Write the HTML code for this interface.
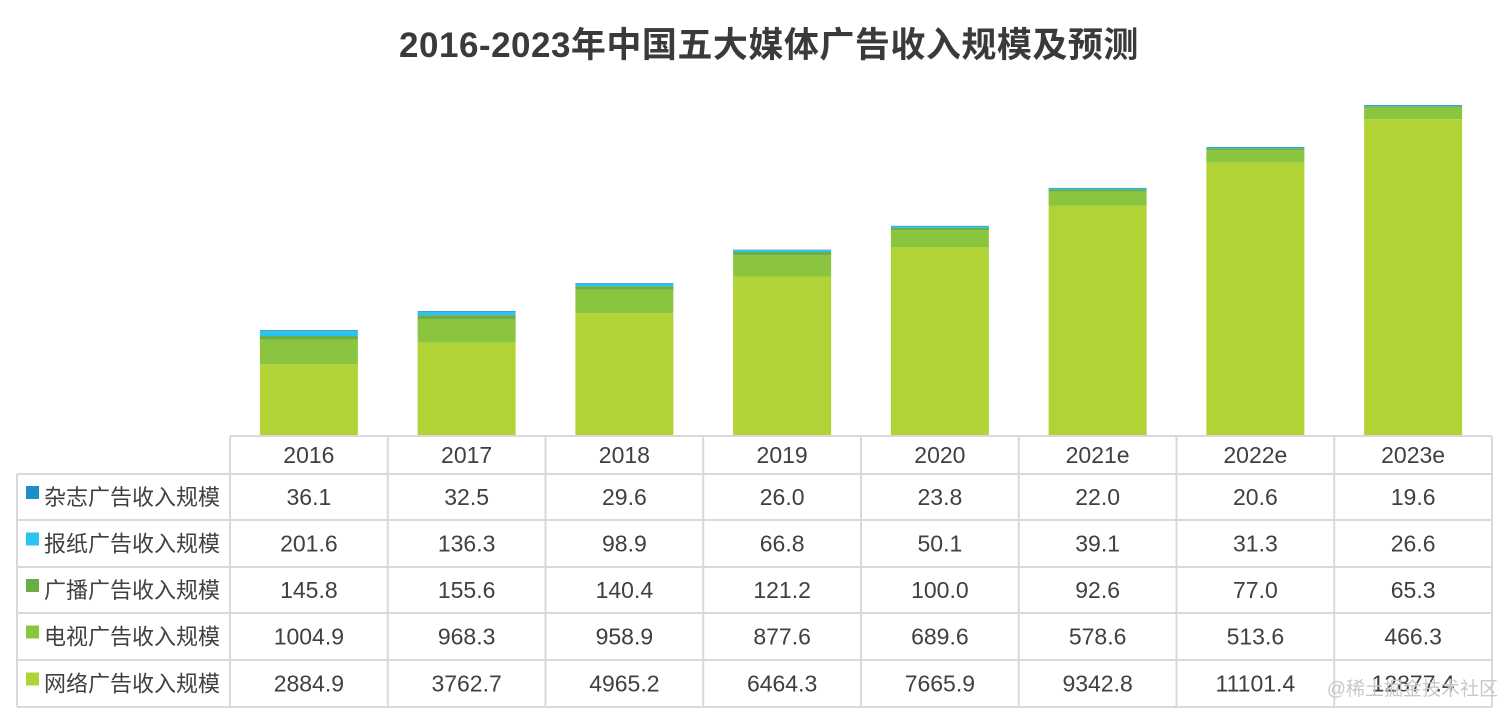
<!DOCTYPE html>
<html><head><meta charset="utf-8">
<style>
html,body{margin:0;padding:0;background:#fff;}
body{width:1512px;height:716px;overflow:hidden;position:relative;font-family:"Liberation Sans","Noto Sans CJK SC",sans-serif;}
#title{position:absolute;left:0;width:1538px;top:17px;text-align:center;font-size:35px;font-weight:bold;color:#3a3a3a;letter-spacing:0.5px;}
svg{position:absolute;left:0;top:0;}
#wm{position:absolute;right:14px;top:674px;font-size:19px;color:#c8c8c8;}
</style></head>
<body>
<div id="title">2016-2023年中国五大媒体广告收入规模及预测</div>
<svg id="chart" width="1512" height="716"></svg>
<div id="wm">@稀土掘金技术社区</div>
<script>
const categories=["2016","2017","2018","2019","2020","2021e","2022e","2023e"];
const seriesNames=["杂志广告收入规模","报纸广告收入规模","广播广告收入规模","电视广告收入规模","网络广告收入规模"];
const magazine=[36.1,32.5,29.6,26.0,23.8,22.0,20.6,19.6];
const newspaper=[201.6,136.3,98.9,66.8,50.1,39.1,31.3,26.6];
const radio=[145.8,155.6,140.4,121.2,100.0,92.6,77.0,65.3];
const tv=[1004.9,968.3,958.9,877.6,689.6,578.6,513.6,466.3];
const network=[2884.9,3762.7,4965.2,6464.3,7665.9,9342.8,11101.4,12877.4];
const labels=[magazine.map(v=>v.toFixed(1)),newspaper.map(v=>v.toFixed(1)),radio.map(v=>v.toFixed(1)),tv.map(v=>v.toFixed(1)),network.map(v=>v.toFixed(1))];
const colors=["#1a8fcb","#2bc4ee","#6aad46","#8bc43f","#b1d335"];
const series=[magazine,newspaper,radio,tv,network];
const svg=document.getElementById('chart');
const NS="http://www.w3.org/2000/svg";
const x0=230,x1=1492,base=435,scale=330/13455.2;
const colW=(x1-x0)/categories.length,barW=98;
const y=v=>v*scale;
const xc=i=>x0+colW*(i+0.5);
function mk(t,a){const e=document.createElementNS(NS,t);for(const k in a)e.setAttribute(k,a[k]);svg.appendChild(e);return e;}
categories.forEach((c,i)=>{
  let acc=0;
  for(let s=series.length-1;s>=0;s--){
    const h=y(series[s][i]);
    const r=mk('rect',{x:xc(i)-barW/2,y:base-acc-h,width:barW,height:h,fill:colors[s]});
    
    
    acc+=h;
  }
});
const rowY=[436,474,520,567,613,660,707];
const lc="#d9d9d9";
function line(a,b,c,d,n){const l=mk('line',{x1:a,y1:b,x2:c,y2:d,stroke:lc,'stroke-width':2});}
line(x0,rowY[0],x1,rowY[0],'table-top-border');
for(let r=1;r<rowY.length;r++) line(17,rowY[r],x1,rowY[r],'table-row-line');
for(let i=0;i<=categories.length;i++) line(x0+colW*i,rowY[0],x0+colW*i,rowY[6],'table-col-line');
line(17,rowY[1],17,rowY[6],'table-left-border');
function txt(x,yy,s,anchor,n,fs){const t=mk('text',{x:x,y:yy,'text-anchor':anchor,'font-size':fs||23,fill:'#404040','font-family':'"Liberation Sans","Noto Sans CJK SC",sans-serif'});t.textContent=s;return t;}
categories.forEach((c,i)=>txt(xc(i),(rowY[0]+rowY[1])/2+8,c,'middle','x-label-'+c));
seriesNames.forEach((n,s)=>{
  const cy=(rowY[s+1]+rowY[s+2])/2;
  const r=mk('rect',{x:26,y:cy-11,width:13,height:13,fill:colors[s]});
  
  
  txt(44,cy+8,n,'start','legend-entry-'+s,22);
  labels[s].forEach((v,i)=>txt(xc(i),cy+8,v,'middle','value-cell'));
});
</script>
</body></html>
